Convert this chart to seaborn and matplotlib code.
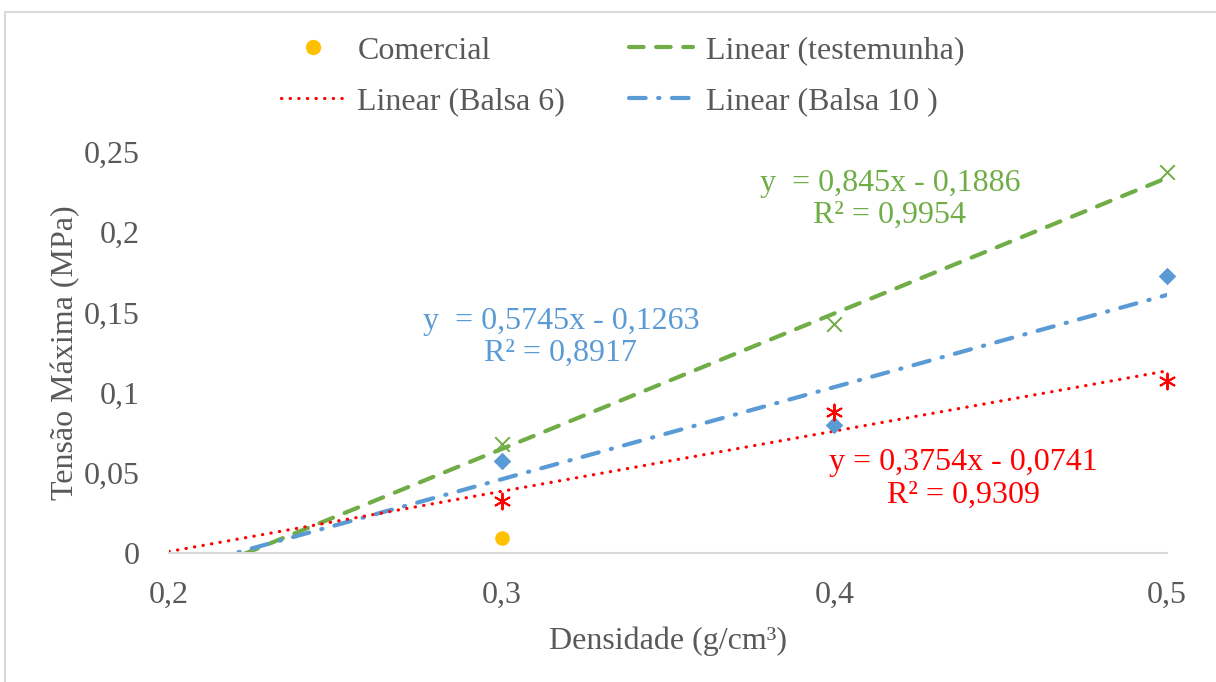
"""Tensão máxima vs densidade, with Excel-style linear trendlines."""

import matplotlib

matplotlib.use("Agg")
import matplotlib.pyplot as plt
from matplotlib.lines import Line2D
from matplotlib.patches import Rectangle
import numpy as np
import pandas as pd
import seaborn as sns

# data
densidade = [0.3, 0.4, 0.5]
testemunha = [0.068, 0.143, 0.2375]
balsa_10 = [0.0574, 0.0798, 0.1727]
balsa_6 = [0.0324, 0.0879, 0.1072]
comercial_x = [0.3]
comercial_y = [0.0095]

# trendline coefficients as printed on the chart
trend_names = ["testemunha", "Balsa 10 ", "Balsa 6"]
trend_slopes = [0.845, 0.5745, 0.3754]
trend_intercepts = [-0.1886, -0.1263, -0.0741]
trend_labels = [
    "y  = 0,845x - 0,1886\nR² = 0,9954",
    "y  = 0,5745x - 0,1263\nR² = 0,8917",
    "y = 0,3754x - 0,0741\nR² = 0,9309",
]

x_ticks = [0.2, 0.3, 0.4, 0.5]
y_ticks = [0, 0.05, 0.1, 0.15, 0.2, 0.25]

GREEN = "#70AD47"
BLUE = "#5B9BD5"
RED = "#FF0000"
YELLOW = "#FFC000"
GREY = "#595959"
FS = 23

sns.set_theme(style="white")
plt.rcParams["font.family"] = ["Liberation Serif", "DejaVu Serif"]

fig = plt.figure(figsize=(12.16, 6.82), dpi=100)
ax = fig.add_axes([0.139, 0.189, 0.8207, 0.588])

styles = {
    "testemunha": dict(color=GREEN, linewidth=3.0, linestyle=(0, (3.5, 3.0))),
    "Balsa 10 ": dict(color=BLUE, linewidth=3.0, linestyle=(0, (4.0, 3.0, 0.3, 3.0))),
    "Balsa 6": dict(color=RED, linewidth=2.3, linestyle=(0, (0.1, 2.6))),
}

x_line = np.array([0.2, 0.5])
handles = {}
for name, slope, intercept in zip(trend_names, trend_slopes, trend_intercepts):
    line_df = pd.DataFrame({"x": x_line, "y": slope * x_line + intercept})
    sns.lineplot(data=line_df, x="x", y="y", ax=ax, dash_capstyle="round",
                 solid_capstyle="round", **styles[name])
    handles[name] = Line2D([], [], dash_capstyle="round", **styles[name])

pts = pd.DataFrame({"x": densidade, "testemunha": testemunha,
                    "balsa_10": balsa_10, "balsa_6": balsa_6})
sns.scatterplot(data=pts, x="x", y="testemunha", ax=ax, marker="x", s=110,
                color=GREEN, linewidth=1.4, zorder=5, clip_on=False)
sns.scatterplot(data=pts, x="x", y="balsa_10", ax=ax, marker="D", s=80,
                color=BLUE, edgecolor=BLUE, linewidth=0, zorder=5, clip_on=False)
sns.scatterplot(data=pts, x="x", y="balsa_6", ax=ax, marker=(6, 2, 0), s=130,
                color=RED, edgecolor=RED, linewidth=1.4, zorder=5, clip_on=False)
sns.scatterplot(x=comercial_x, y=comercial_y, ax=ax, marker="o", s=110,
                color=YELLOW, edgecolor=YELLOW, linewidth=0, zorder=5)

ax.set_xlim(0.2, 0.5)
ax.set_ylim(0, 0.25)
ax.set_xticks(x_ticks)
ax.set_yticks(y_ticks)
ax.set_xticklabels([f"{v:g}".replace(".", ",") for v in x_ticks])
ax.set_yticklabels([f"{v:g}".replace(".", ",") for v in y_ticks])
ax.tick_params(axis="both", length=0, labelsize=FS, labelcolor=GREY)
ax.tick_params(axis="y", pad=21)
ax.tick_params(axis="x", pad=20)
for side in ["top", "right", "left"]:
    ax.spines[side].set_visible(False)
ax.spines["bottom"].set_color("#D9D9D9")
ax.spines["bottom"].set_linewidth(1.5)
ax.set_xlabel("Densidade (g/cm³)", fontsize=FS, color=GREY, labelpad=12)
ax.set_ylabel("Tensão Máxima (MPa)", fontsize=FS, color=GREY)
ax.yaxis.set_label_coords(-0.089, 0.5)

eq_pos = [(0.4167, 0.2205), (0.3178, 0.1345), (0.4387, 0.0462)]
eq_colors = [GREEN, BLUE, RED]
for text, (tx, ty), col in zip(trend_labels, eq_pos, eq_colors):
    ax.text(tx, ty, text, color=col, fontsize=FS, ha="center", va="center",
            multialignment="center", linespacing=1.15)

comercial_handle = Line2D([], [], marker="o", color=YELLOW, linestyle="none",
                          markersize=10)
fig.legend(
    [comercial_handle, handles["Balsa 6"], handles["testemunha"], handles["Balsa 10 "]],
    ["Comercial", "Linear (Balsa 6)", "Linear (testemunha)", "Linear (Balsa 10 )"],
    loc="center", bbox_to_anchor=(0.512, 0.888), ncol=2, frameon=False,
    fontsize=FS, labelcolor=GREY, handlelength=2.0, handletextpad=0.4,
    columnspacing=2.0, labelspacing=0.68,
)

fig.patches.append(Rectangle((5 / 1216, -0.05), 1.1, 1 - 12 / 682 + 0.05,
                             transform=fig.transFigure, fill=False,
                             edgecolor="#D9D9D9", linewidth=1.5))

fig.savefig("out.png", dpi=100)
plt.close(fig)
